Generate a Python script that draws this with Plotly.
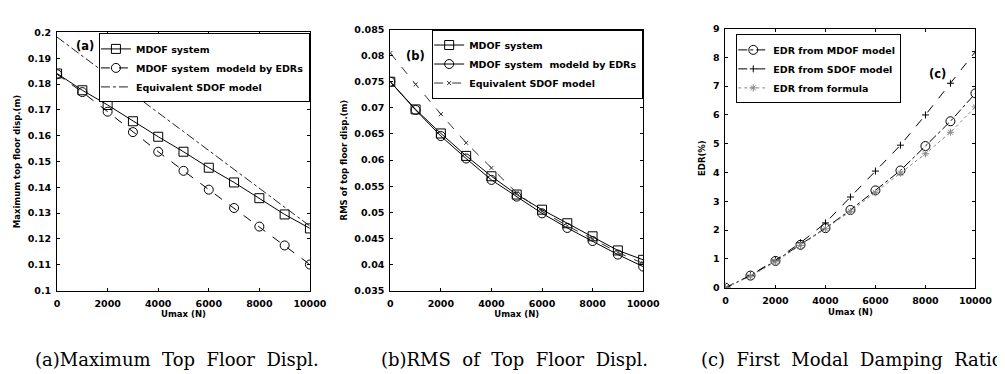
import plotly.graph_objects as go

W, H = 1005, 374

# ---------------- data ----------------
umax = [0, 1000, 2000, 3000, 4000, 5000, 6000, 7000, 8000, 9000, 10000]

a_mdof = [0.1841, 0.1776, 0.1719, 0.1656, 0.1596, 0.1538, 0.1476, 0.1419, 0.1358, 0.1295, 0.1241]
a_edr = [0.1838, 0.1769, 0.1693, 0.1614, 0.1538, 0.1464, 0.1391, 0.1320, 0.1248, 0.1175, 0.1101]
a_sdof = [0.1982, 0.1908, 0.1835, 0.1762, 0.1689, 0.1616, 0.1543, 0.1470, 0.1397, 0.1324, 0.1250]

b_mdof = [0.0750, 0.0697, 0.0651, 0.0608, 0.0569, 0.0534, 0.0505, 0.0479, 0.0454, 0.0427, 0.0409]
b_edr = [0.0750, 0.0696, 0.0646, 0.0603, 0.0562, 0.0530, 0.0498, 0.0470, 0.0445, 0.0419, 0.0396]
b_sdof = [0.0805, 0.0745, 0.0688, 0.0633, 0.0585, 0.0537, 0.0502, 0.0474, 0.0449, 0.0423, 0.0402]

c_mdof = [0.0, 0.42, 0.93, 1.49, 2.07, 2.70, 3.38, 4.07, 4.92, 5.78, 6.75]
c_sdof = [0.0, 0.43, 0.96, 1.56, 2.25, 3.15, 4.05, 4.95, 6.00, 7.10, 8.20]
c_formula = [0.0, 0.40, 0.90, 1.47, 2.05, 2.65, 3.30, 3.98, 4.65, 5.40, 6.28]

x_ticks = [0, 2000, 4000, 6000, 8000, 10000]
x_ticktext = ["0", "2000", "4000", "6000", "8000", "10000"]
a_yticks = [0.1, 0.11, 0.12, 0.13, 0.14, 0.15, 0.16, 0.17, 0.18, 0.19, 0.2]
a_yticktext = ["0.1", "0.11", "0.12", "0.13", "0.14", "0.15", "0.16", "0.17", "0.18", "0.19", "0.2"]
b_yticks = [0.035, 0.04, 0.045, 0.05, 0.055, 0.06, 0.065, 0.07, 0.075, 0.08, 0.085]
b_yticktext = ["0.035", "0.04", "0.045", "0.05", "0.055", "0.06", "0.065", "0.07", "0.075", "0.08", "0.085"]
c_yticks = [0, 1, 2, 3, 4, 5, 6, 7, 8, 9]
c_yticktext = ["0", "1", "2", "3", "4", "5", "6", "7", "8", "9"]

panel_labels = ["(a)", "(b)", "(c)"]
captions = ["(a)Maximum  Top  Floor  Displ.", "(b)RMS  of  Top  Floor  Displ.", "(c)  First  Modal  Damping  Ratio"]
y_titles = ["Maximum top floor disp.(m)", "RMS of top floor disp.(m)", "EDR(%)"]
x_title = "Umax (N)"

# ---------------- styling helpers ----------------
SANS = "DejaVu Sans"
tickfont = dict(family=SANS, size=9.5, color="black", weight="bold")
titlefont = dict(family=SANS, size=8.5, color="black", weight="bold")


def px_x(p):
    return p / W


def px_y(p):
    return 1 - p / H


fig = go.Figure()

# panel (a)
fig.add_trace(go.Scatter(x=umax, y=a_mdof, name="MDOF system", xaxis="x", yaxis="y", legend="legend",
                         mode="lines+markers", line=dict(color="black", width=1),
                         marker=dict(symbol="square-open", size=9, color="black", line=dict(width=1))))
fig.add_trace(go.Scatter(x=umax, y=a_edr, name="MDOF system  modeld by EDRs", xaxis="x", yaxis="y", legend="legend",
                         mode="lines+markers", line=dict(color="black", width=1, dash="dash"),
                         marker=dict(symbol="circle-open", size=9, color="black", line=dict(width=1))))
fig.add_trace(go.Scatter(x=umax, y=a_sdof, name="Equivalent SDOF model", xaxis="x", yaxis="y", legend="legend",
                         mode="lines", line=dict(color="#222", width=1, dash="dashdot")))

# panel (b)
fig.add_trace(go.Scatter(x=umax, y=b_mdof, name="MDOF system", xaxis="x2", yaxis="y2", legend="legend2",
                         mode="lines+markers", line=dict(color="black", width=1),
                         marker=dict(symbol="square-open", size=9, color="black", line=dict(width=1))))
fig.add_trace(go.Scatter(x=umax, y=b_edr, name="MDOF system  modeld by EDRs", xaxis="x2", yaxis="y2", legend="legend2",
                         mode="lines+markers", line=dict(color="black", width=1),
                         marker=dict(symbol="circle-open", size=9, color="black", line=dict(width=1))))
fig.add_trace(go.Scatter(x=umax, y=b_sdof, name="Equivalent SDOF model", xaxis="x2", yaxis="y2", legend="legend2",
                         mode="lines+markers", line=dict(color="#333", width=1, dash="dash"),
                         marker=dict(symbol="x-thin", size=4, color="#333", line=dict(width=1, color="#333"))))

# panel (c)
fig.add_trace(go.Scatter(x=umax, y=c_mdof, name="EDR from MDOF model", xaxis="x3", yaxis="y3", legend="legend3",
                         mode="lines+markers", line=dict(color="black", width=1, dash="dashdot"),
                         marker=dict(symbol="circle-open", size=9, color="black", line=dict(width=1))))
fig.add_trace(go.Scatter(x=umax, y=c_sdof, name="EDR from SDOF model", xaxis="x3", yaxis="y3", legend="legend3",
                         mode="lines+markers", line=dict(color="black", width=1, dash="dash"),
                         marker=dict(symbol="cross-thin", size=5, color="black", line=dict(width=1, color="black"))))
fig.add_trace(go.Scatter(x=umax, y=c_formula, name="EDR from formula", xaxis="x3", yaxis="y3", legend="legend3",
                         mode="lines+markers", line=dict(color="#888", width=1, dash="dot"),
                         marker=dict(symbol="asterisk-open", size=6, color="#888", line=dict(width=1, color="#888"))))


def xaxis(domain, anchor):
    return dict(domain=domain, anchor=anchor, range=[0, 10000], tickvals=x_ticks, ticktext=x_ticktext,
                ticks="inside", ticklen=3, tickcolor="black", showline=True, linecolor="black", linewidth=1,
                mirror="ticks", showgrid=False, zeroline=False, tickfont=tickfont, ticklabelstandoff=4,
                title=dict(text=x_title, font=titlefont, standoff=3))


def yaxis(domain, anchor, rng, vals, text, title):
    return dict(domain=domain, anchor=anchor, range=rng, tickvals=vals, ticktext=text,
                ticks="inside", ticklen=3, tickcolor="black", showline=True, linecolor="black", linewidth=1,
                mirror="ticks", showgrid=False, zeroline=False, tickfont=tickfont, ticklabelstandoff=3,
                title=dict(text=title, font=titlefont, standoff=5))


legend_common = dict(bgcolor="white", bordercolor="black", borderwidth=1,
                     font=dict(family=SANS, size=9.5, color="black", weight="bold"),
                     itemwidth=30, tracegroupgap=0, indentation=-4)

fig.update_layout(
    width=W, height=H, margin=dict(l=0, r=0, t=0, b=0),
    paper_bgcolor="white", plot_bgcolor="white", showlegend=True,
    xaxis=xaxis([px_x(47), px_x(305)], "y"),
    yaxis=yaxis([px_y(285), px_y(19)], "x", [0.1, 0.2], a_yticks, a_yticktext, y_titles[0]),
    xaxis2=xaxis([px_x(387), px_x(645)], "y2"),
    yaxis2=yaxis([px_y(285), px_y(16)], "x2", [0.035, 0.085], b_yticks, b_yticktext, y_titles[1]),
    xaxis3=xaxis([px_x(729), px_x(984)], "y3"),
    yaxis3=yaxis([px_y(282), px_y(15)], "x3", [0, 9], c_yticks, c_yticktext, y_titles[2]),
    legend=dict(x=px_x(305), y=px_y(20), xanchor="right", yanchor="top", **legend_common),
    legend2=dict(x=px_x(645), y=px_y(16), xanchor="right", yanchor="top", **legend_common),
    legend3=dict(x=px_x(740), y=px_y(21), xanchor="left", yanchor="top", **legend_common),
)

label_pos = [(75, 33), (413, 43), (945, 62)]
for t, (lx, ly) in zip(panel_labels, label_pos):
    fig.add_annotation(x=px_x(lx), y=px_y(ly), xref="paper", yref="paper", text=t, showarrow=False,
                       xanchor="center", yanchor="middle",
                       font=dict(family=SANS, size=11.5, color="black", weight="bold"))

cap_pos = [(22, 356), (375, 356), (702, 356)]
for t, (cx, cy) in zip(captions, cap_pos):
    fig.add_annotation(x=px_x(cx), y=px_y(cy), xref="paper", yref="paper", text=t, showarrow=False,
                       xanchor="left", yanchor="middle",
                       font=dict(family="DejaVu Serif", size=18, color="black"))

fig.write_html("out.html")
